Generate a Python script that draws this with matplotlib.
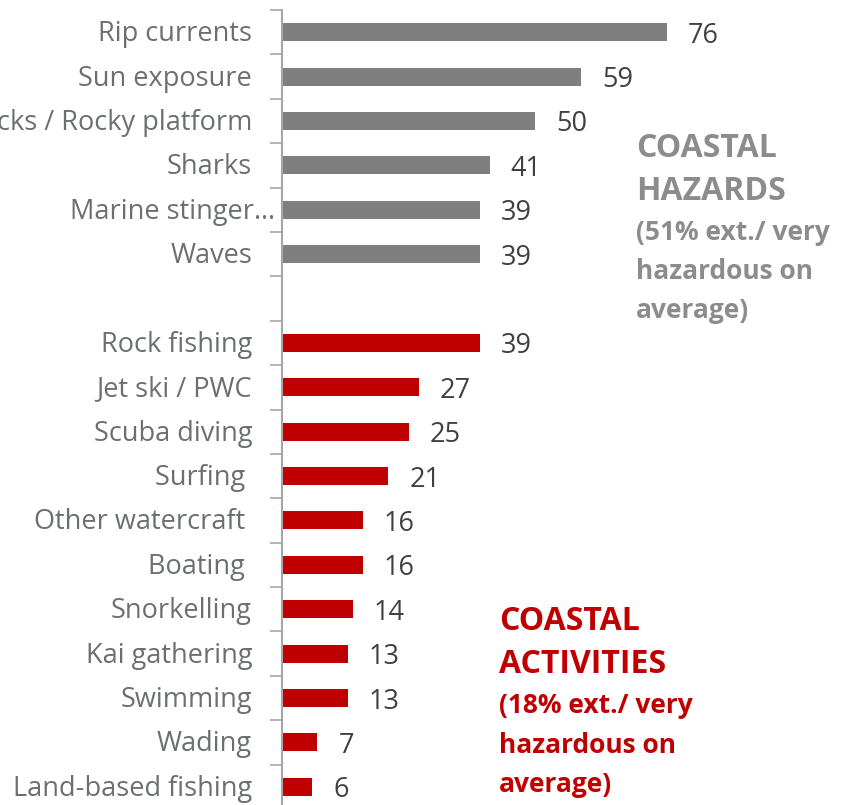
import matplotlib
matplotlib.use("Agg")
import matplotlib.pyplot as plt
from matplotlib.transforms import offset_copy

hazard_labels = ["Rip currents", "Sun exposure", "Rocks / Rocky platform", "Sharks",
                 "Marine stinger\u2026", "Waves"]
hazard_values = [76, 59, 50, 41, 39, 39]
activity_labels = ["Rock fishing", "Jet ski / PWC", "Scuba diving", "Surfing ",
                   "Other watercraft ", "Boating ", "Snorkelling", "Kai gathering",
                   "Swimming", "Wading", "Land-based fishing"]
activity_values = [39, 27, 25, 21, 16, 16, 14, 13, 13, 7, 6]

GRAY_BAR = "#7f7f7f"
RED = "#c00000"
LABEL_C = "#6b6e72"
VALUE_C = "#404040"
FONT = "Open Sans"

W, H = 841, 805
fig = plt.figure(figsize=(W / 100, H / 100), dpi=100)
px_per_unit = (667 - 282) / 76.0
left = 282 / W
ax = fig.add_axes([left, 1 - 809 / H, 1 - left, 799 / H])

labels = hazard_labels + [""] + activity_labels
values = hazard_values + [None] + activity_values
colors = [GRAY_BAR] * len(hazard_labels) + [None] + [RED] * len(activity_labels)

n = len(labels)
for i, (v, c) in enumerate(zip(values, colors)):
    if v is None:
        continue
    ax.barh(i, v, height=0.405, color=c, edgecolor="none")
    t = offset_copy(ax.transData, fig=fig, x=21, y=-10.5, units="dots")
    ax.text(v, i, str(v), transform=t, ha="left", va="baseline",
            fontsize=19.5, color=VALUE_C, family=FONT)

ax.set_xlim(0, (W - 282) / px_per_unit)
ax.set_ylim(n - 0.5, -0.5)

# category labels
for i, lab in enumerate(labels):
    if not lab:
        continue
    dx = -30
    if lab.startswith("Marine"):
        dx = -7
    t = offset_copy(ax.get_yaxis_transform(), fig=fig, x=dx, y=-9, units="dots")
    ax.text(0, i, lab, transform=t, ha="right", va="baseline", fontsize=19.5,
            color=LABEL_C, family=FONT)

ax.set_yticks([i - 0.5 for i in range(n + 1)])
ax.set_yticklabels([])
ax.tick_params(axis="y", length=9, width=1.2, color="#a6a6a6")
ax.set_xticks([])
for s in ["top", "right", "bottom"]:
    ax.spines[s].set_visible(False)
ax.spines["left"].set_color("#a6a6a6")
ax.spines["left"].set_linewidth(1.5)

def fig_text(x, y_base, s, size, color):
    fig.text(x / W, 1 - y_base / H, s, fontsize=size, color=color,
             fontweight="bold", family=FONT, ha="left", va="baseline")

GRAY_T = "#8c8c8c"
g_lines = [("COASTAL", 23, 157), ("HAZARDS", 23, 200), ("(51% ext./ very", 19, 240),
           ("hazardous on", 19, 279), ("average)", 19, 318)]
for s, sz, yb in g_lines:
    fig_text(636, yb, s, sz, GRAY_T)
r_lines = [("COASTAL", 23, 630), ("ACTIVITIES", 23, 673), ("(18% ext./ very", 19, 713),
           ("hazardous on", 19, 753), ("average)", 19, 792)]
for s, sz, yb in r_lines:
    fig_text(499, yb, s, sz, RED)

fig.savefig("out.png", dpi=100)
